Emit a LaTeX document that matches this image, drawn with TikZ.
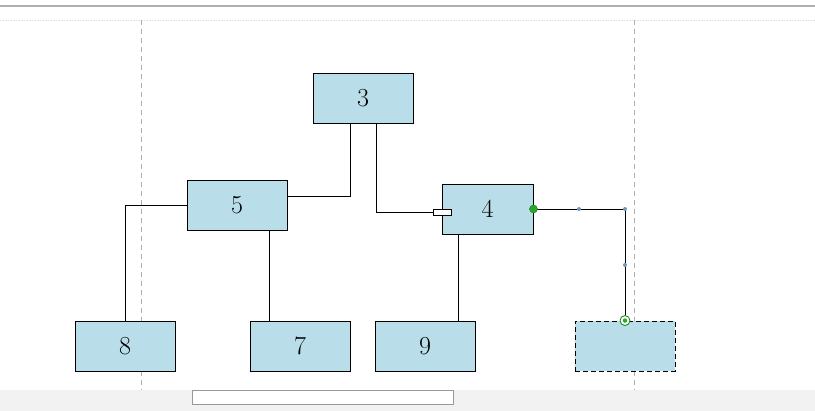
\documentclass[tikz,border=0pt]{standalone}
\usetikzlibrary{calc}
\definecolor{boxfill}{RGB}{185,222,234}
\definecolor{guide}{RGB}{175,175,175}
\definecolor{barbg}{RGB}{242,242,242}
\definecolor{dotblue}{RGB}{110,150,200}
\definecolor{portgreen}{RGB}{40,170,40}
\begin{document}
\begin{tikzpicture}[x=1pt,y=-1pt,
  box/.style={draw=black,fill=boxfill,minimum width=100pt,minimum height=50pt,inner sep=0pt,font=\fontsize{26}{28}\selectfont,line width=0.9pt},
  conn/.style={draw=black,line width=0.9pt},
  bluedot/.style={circle,fill=dotblue,inner sep=0pt,minimum size=4pt}]
\useasboundingbox (0,0) rectangle (815,411);
% top bars
\draw[guide,line width=1.2pt] (0,6) -- (815,6);
\draw[black!12,line width=0.6pt,densely dotted] (0,20) -- (815,20);
% vertical guides
\draw[guide,dash pattern=on 5pt off 4pt,line width=0.8pt] (141,20) -- (141,390);
\draw[guide,dash pattern=on 5pt off 4pt,line width=0.8pt] (634,20) -- (634,390);
% bottom bar
\fill[barbg] (0,390) rectangle (815,411);
\draw[black!40,fill=white,line width=0.6pt] (192,390) rectangle (453,404);
% nodes
\node[box] (n3) at (363,98) {3};
\node[box] (n5) at (237,205) {5};
\node[box,minimum width=91pt] (n4) at (487.5,209) {4};
\node[box] (n8) at (125,346) {8};
\node[box] (n7) at (300,346) {7};
\node[box] (n9) at (425,346) {9};
\node[box,dash pattern=on 5pt off 3pt] (nb) at (625,346) {};
% connectors
\draw[conn] ($(n3.south)+(-13,0)$) |- ($(n5.east)+(0,-9)$);
\coordinate (p4) at (433,212);
\draw[conn] ($(n3.south)+(13,0)$) |- (p4);
\node[draw=black,fill=white,line width=0.6pt,minimum width=18pt,minimum height=6pt,inner sep=0pt,anchor=west] (port) at (p4) {};
\draw[conn] (n5.west) -| (n8.north);
\draw[conn] (269,230) -- (269,321);
\draw[conn] (458,234) -- (458,321);
\draw[conn] (n4.east) -| (nb.north);
% markers
\node[circle,fill=portgreen,draw=portgreen!70!black,inner sep=0pt,minimum size=8pt] (g1) at (n4.east) {};
\node[circle,draw=portgreen!80!black,fill=white,line width=0.9pt,inner sep=0pt,minimum size=10pt] (g2) at (nb.north) {};
\node[circle,fill=portgreen,inner sep=0pt,minimum size=4.5pt] at (nb.north) {};
\node[bluedot] at (579,209) {};
\node[bluedot] at (625,209) {};
\node[bluedot] at (625,265) {};
\end{tikzpicture}
\end{document}
